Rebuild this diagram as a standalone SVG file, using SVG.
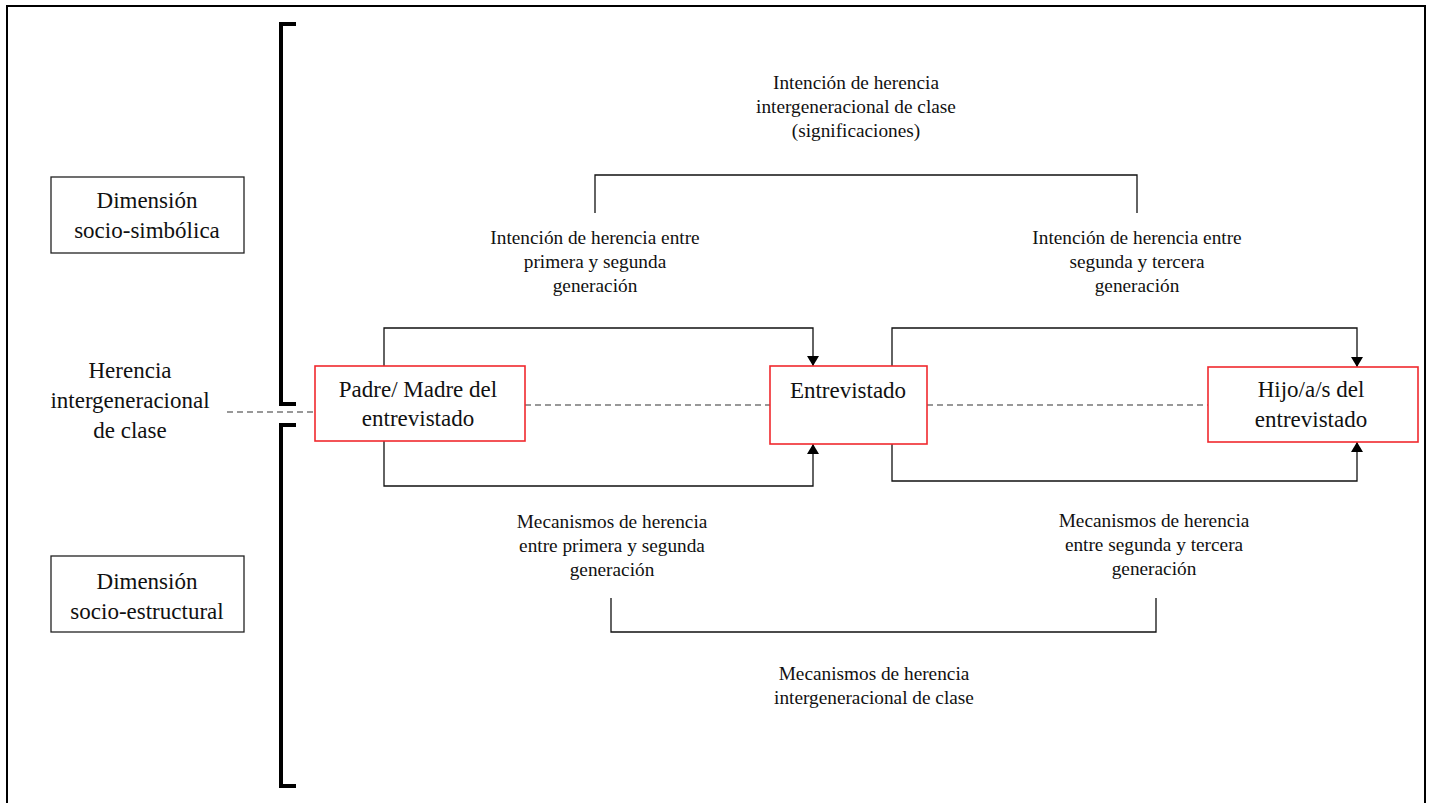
<svg xmlns="http://www.w3.org/2000/svg" width="1433" height="803" viewBox="0 0 1433 803">
<style>
.s{font-size:19.3px}
.n{font-size:23px}
.box{fill:#fff;stroke:#222;stroke-width:1.3}
.red{fill:#fff;stroke:#f0282d;stroke-width:1.6}
.ln{fill:none;stroke:#111;stroke-width:1.3}
.dash{fill:none;stroke:#777;stroke-width:1.6;stroke-dasharray:6 4}
.br{fill:none;stroke:#000;stroke-width:4}
</style>
<defs>
<marker id="ah" viewBox="0 0 10 12" refX="10" refY="6" markerWidth="10" markerHeight="12" markerUnits="userSpaceOnUse" orient="auto">
<path d="M0,0 L10,6 L0,12 Z" fill="#000"/>
</marker>
</defs>
<rect width="1433" height="803" fill="#fff"/>
<path d="M7,803 V6 H1425 V803" fill="none" stroke="#000" stroke-width="2"/>
<g id="brackets">
<path class="br" d="M296,24 H281 V404 H296"/>
<path class="br" d="M296,425 H281 V786 H296"/>
</g>
<g id="connectors">
<path class="dash" d="M227,412 H315"/>
<path class="dash" d="M525,405 H770"/>
<path class="dash" d="M927,405 H1208"/>
<path class="ln" d="M384,366 V328 H813 V366" marker-end="url(#ah)"/>
<path class="ln" d="M384,441 V486 H813 V444" marker-end="url(#ah)"/>
<path class="ln" d="M892,366 V328 H1357 V367" marker-end="url(#ah)"/>
<path class="ln" d="M892,444 V481 H1357 V442" marker-end="url(#ah)"/>
<path class="ln" d="M595,213 V175 H1137 V213"/>
<path class="ln" d="M611,598 V632 H1156 V598"/>
</g>
<g font-family="Liberation Serif, Times New Roman, serif" fill="#111" text-anchor="middle">
<g id="dim-simbolica">
<rect class="box" x="51" y="177" width="193" height="76"/>
<text class="n" x="147" y="208">Dimensión</text>
<text class="n" x="147" y="238">socio-simbólica</text>
</g>
<g id="dim-estructural">
<rect class="box" x="51" y="556" width="193" height="76"/>
<text class="n" x="147" y="589">Dimensión</text>
<text class="n" x="147" y="619">socio-estructural</text>
</g>
<g id="herencia">
<text class="n" x="130" y="378">Herencia</text>
<text class="n" x="130" y="408">intergeneracional</text>
<text class="n" x="130" y="438">de clase</text>
</g>
<g id="padre">
<rect class="red" x="315" y="366" width="210" height="75"/>
<text class="n" x="418" y="397">Padre/ Madre del</text>
<text class="n" x="418" y="426">entrevistado</text>
</g>
<g id="entrevistado">
<rect class="red" x="770" y="366" width="157" height="78"/>
<text class="n" x="848" y="398">Entrevistado</text>
</g>
<g id="hijo">
<rect class="red" x="1208" y="367" width="210" height="75"/>
<text class="n" x="1311" y="397">Hijo/a/s del</text>
<text class="n" x="1311" y="427">entrevistado</text>
</g>
<g id="labels">
<text class="s" x="856" y="89">Intención de herencia</text>
<text class="s" x="856" y="113">intergeneracional de clase</text>
<text class="s" x="856" y="137">(significaciones)</text>
<text class="s" x="595" y="244">Intención de herencia entre</text>
<text class="s" x="595" y="268">primera y segunda</text>
<text class="s" x="595" y="292">generación</text>
<text class="s" x="1137" y="244">Intención de herencia entre</text>
<text class="s" x="1137" y="268">segunda y tercera</text>
<text class="s" x="1137" y="292">generación</text>
<text class="s" x="612" y="528">Mecanismos de herencia</text>
<text class="s" x="612" y="552">entre primera y segunda</text>
<text class="s" x="612" y="576">generación</text>
<text class="s" x="1154" y="527">Mecanismos de herencia</text>
<text class="s" x="1154" y="551">entre segunda y tercera</text>
<text class="s" x="1154" y="575">generación</text>
<text class="s" x="874" y="680">Mecanismos de herencia</text>
<text class="s" x="874" y="704">intergeneracional de clase</text>
</g>
</g>
</svg>
